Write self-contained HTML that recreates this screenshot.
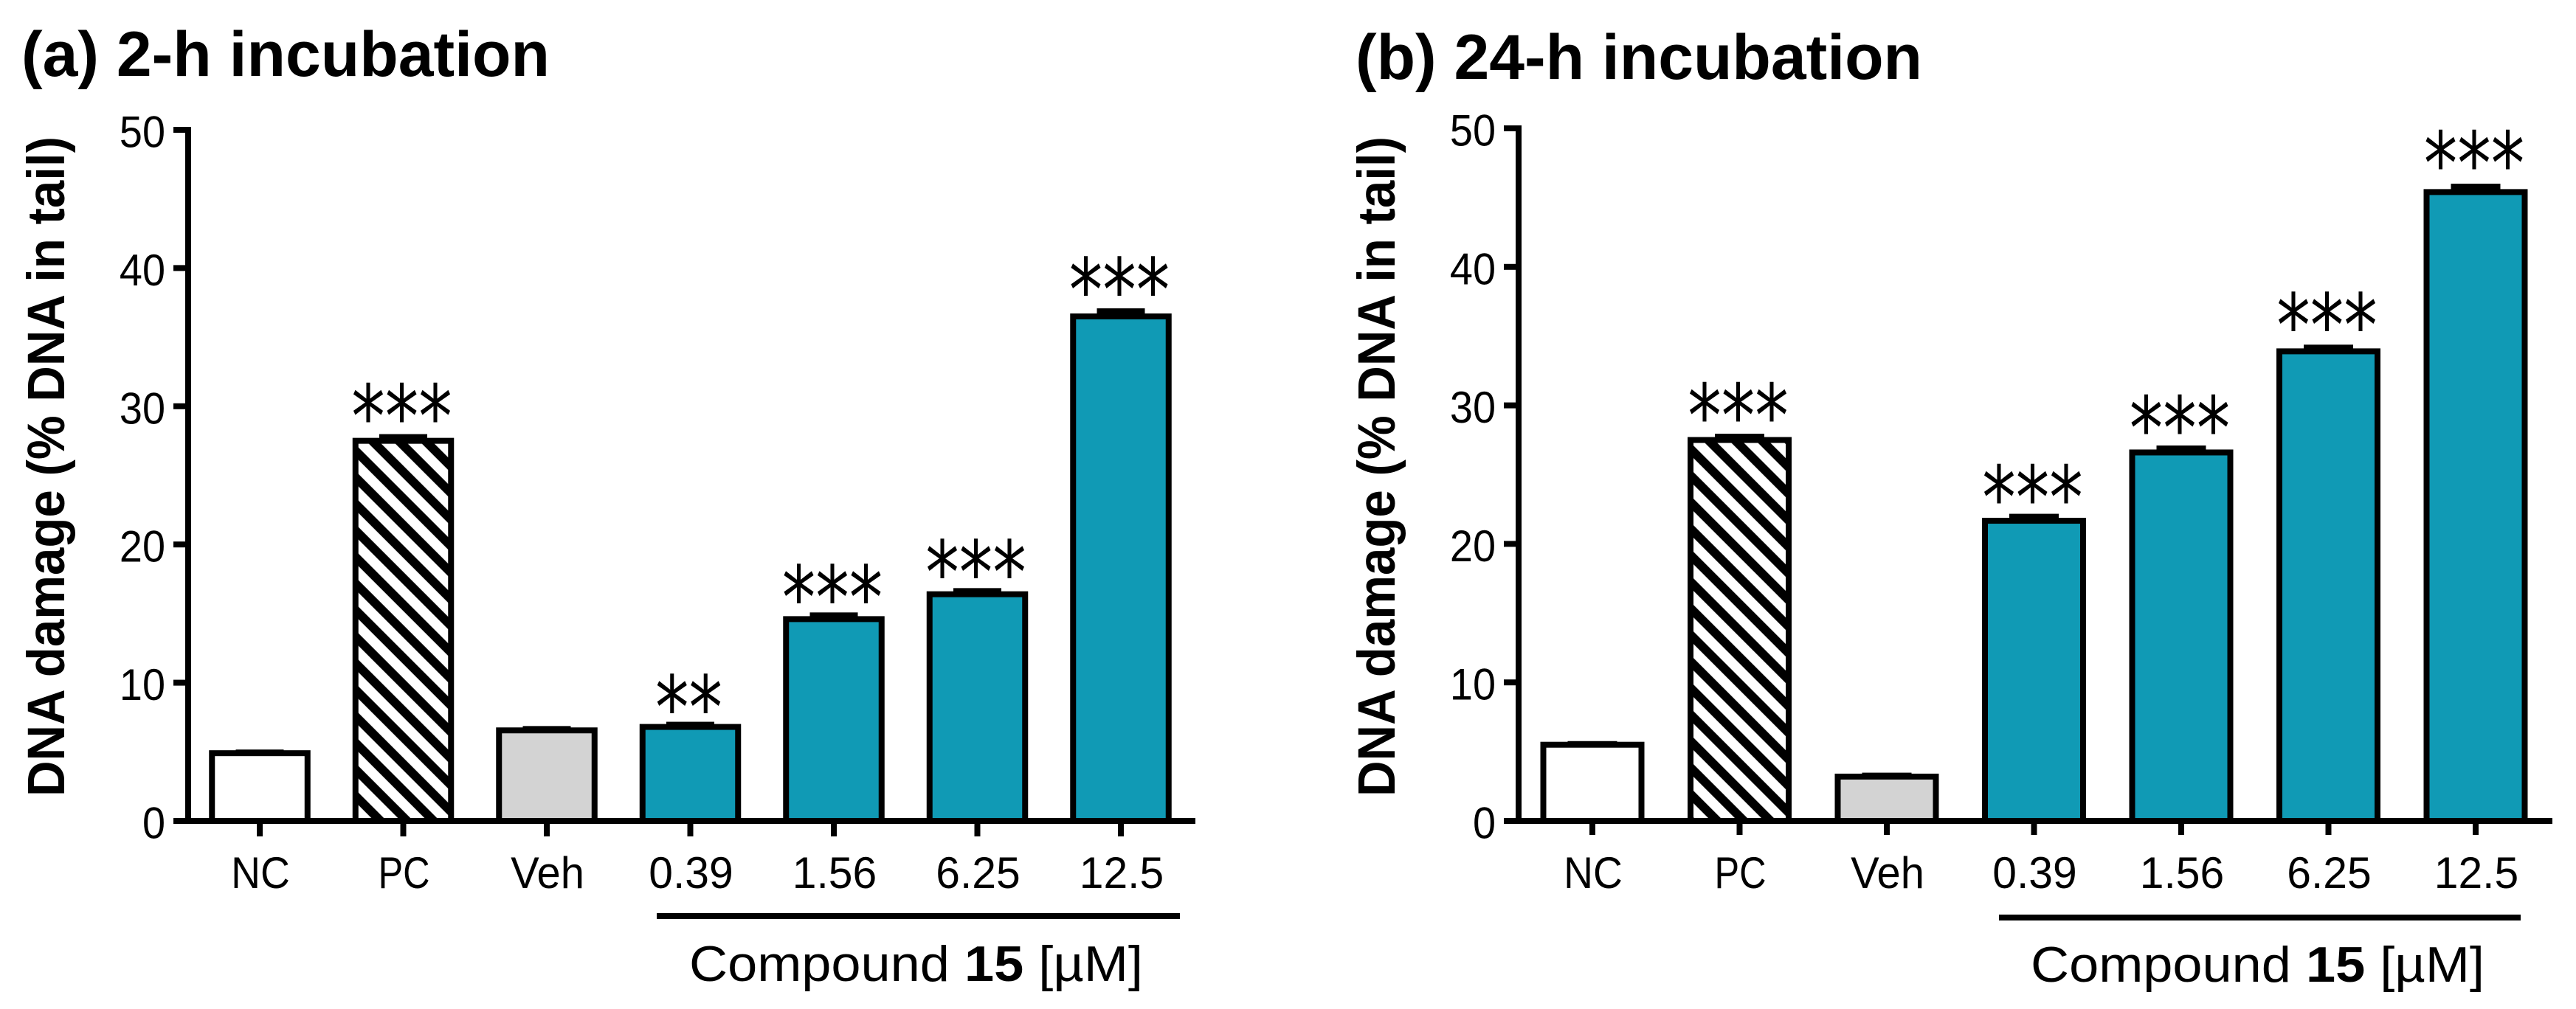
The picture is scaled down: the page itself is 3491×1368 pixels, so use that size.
<!DOCTYPE html>
<html lang="en">
<head>
<meta charset="utf-8">
<title>DNA damage after 2-h and 24-h incubation</title>
<style>
  html, body { margin: 0; padding: 0; background: #ffffff; }
  #figure { display: block; }
  text { font-family: "Liberation Sans", sans-serif; fill: #000; }
  .title { font-size: 86px; font-weight: 700; }
  .ytitle { font-size: 71px; font-weight: 700; }
  .tick { font-size: 60px; }
  .compound { font-size: 68px; }
  .sig { font-family: "DejaVu Sans", sans-serif; font-size: 118px; text-anchor: middle; }
</style>
</head>
<body>
<svg id="figure" xmlns="http://www.w3.org/2000/svg" width="3491" height="1368" viewBox="0 0 3491 1368">
  <defs>
    <pattern id="hatch-a" patternUnits="userSpaceOnUse" width="36" height="36" patternTransform="translate(0 21.3)">
      <path d="M-36 -36L72 72M-36 0L36 72M0 -36L72 36" stroke="#000" stroke-width="12" fill="none"/>
    </pattern>
    <pattern id="hatch-b" patternUnits="userSpaceOnUse" width="36" height="36" patternTransform="translate(0 9.6)">
      <path d="M-36 -36L72 72M-36 0L36 72M0 -36L72 36" stroke="#000" stroke-width="12" fill="none"/>
    </pattern>
  </defs>
  <rect x="0" y="0" width="3491" height="1368" fill="#ffffff"/>

  <text class="title" x="29" y="103" textLength="716" lengthAdjust="spacingAndGlyphs">(a) 2-h incubation</text>
  <text class="title" x="1837" y="107" textLength="768" lengthAdjust="spacingAndGlyphs">(b) 24-h incubation</text>

  <text class="ytitle" transform="translate(87 1080) rotate(-90)" x="0" y="0" textLength="895" lengthAdjust="spacingAndGlyphs">DNA damage (% DNA in tail)</text>
  <text class="ytitle" transform="translate(1890 1080) rotate(-90)" x="0" y="0" textLength="895" lengthAdjust="spacingAndGlyphs">DNA damage (% DNA in tail)</text>

  <g id="panel-a"></g>
  <g id="panel-b"></g>

  <rect x="890" y="1238" width="709" height="8" fill="#000"/>
  <rect x="2709" y="1240" width="707" height="8" fill="#000"/>
  <text class="compound" x="934" y="1330" textLength="615" lengthAdjust="spacingAndGlyphs">Compound <tspan font-weight="700">15</tspan> [µM]</text>
  <text class="compound" x="2752" y="1331" textLength="615" lengthAdjust="spacingAndGlyphs">Compound <tspan font-weight="700">15</tspan> [µM]</text>
</svg>

<script>
const categories = ['NC', 'PC', 'Veh', '0.39', '1.56', '6.25', '12.5'];
const yTickValues = [0, 10, 20, 30, 40, 50];
const yTickLabels = ['0', '10', '20', '30', '40', '50'];

const valuesA = [4.9, 27.5, 6.55, 6.8, 14.6, 16.4, 36.5];
const errorsA = [0.05, 0.27, 0.1, 0.16, 0.27, 0.23, 0.37];
const significanceA = ['', '***', '', '**', '***', '***', '***'];

const valuesB = [5.5, 27.5, 3.2, 21.67, 26.6, 33.9, 45.4];
const errorsB = [0.05, 0.24, 0.07, 0.29, 0.29, 0.27, 0.39];
const significanceB = ['', '***', '', '***', '***', '***', '***'];

const SVG_NS = 'http://www.w3.org/2000/svg';

function makeRect(parent, x, y, w, h, fill) {
  const r = document.createElementNS(SVG_NS, 'rect');
  r.setAttribute('x', x);
  r.setAttribute('y', y);
  r.setAttribute('width', w);
  r.setAttribute('height', h);
  r.setAttribute('fill', fill);
  parent.appendChild(r);
  return r;
}

function makeText(parent, cls, x, y, anchor, str) {
  const t = document.createElementNS(SVG_NS, 'text');
  t.setAttribute('class', cls);
  t.setAttribute('x', x);
  t.setAttribute('y', y);
  t.setAttribute('text-anchor', anchor);
  t.textContent = str;
  parent.appendChild(t);
  return t;
}

function fitWidth(textEl, ratio) {
  const natural = textEl.getComputedTextLength();
  textEl.setAttribute('textLength', natural * ratio);
  textEl.setAttribute('lengthAdjust', 'spacingAndGlyphs');
}

function categoryFit(label) {
  if (label === 'NC') return 0.92;
  if (label === 'PC') return 0.84;
  if (label === 'Veh') return 0.965;
  return 0.98;
}

function barFill(i, hatchId) {
  if (i === 0) return '#ffffff';
  if (i === 1) return 'url(#' + hatchId + ')';
  if (i === 2) return '#d3d3d3';
  return '#109ab5';
}

function drawPanel(cfg, values, errors, significance) {
  const g = document.getElementById(cfg.id);
  const yPos = function (v) { return cfg.y0 - cfg.yScale * v; };
  const xPos = function (i) { return cfg.x0 + cfg.step * i; };
  const sw = 8;

  categories.forEach(function (cat, i) {
    const cx = xPos(i);
    const top = yPos(values[i]);

    const cap = makeRect(g, cx - cfg.capW / 2, yPos(values[i] + errors[i]) - sw / 2, cfg.capW, sw, '#000');
    
    

    const bar = makeRect(g, cx - cfg.barW / 2 + sw / 2, top, cfg.barW - sw, cfg.y0 - top, barFill(i, cfg.hatch));
    bar.setAttribute('stroke', '#000');
    bar.setAttribute('stroke-width', sw);
    
    

    if (significance[i]) {
      const gap = 18 + 0.32 * values[i];
      const star = makeText(g, 'sig', cx + cfg.sigNudge, top - sw / 2 - gap + cfg.sigBaseline, 'middle', significance[i]);
      star.setAttribute('textLength', significance[i].length * 45.5);
      star.setAttribute('lengthAdjust', 'spacingAndGlyphs');
      
      
    }

    const tick = makeRect(g, cx - sw / 2, cfg.y0, sw, cfg.tickBottom - cfg.y0, '#000');
    
    

    const label = makeText(g, 'tick', cx + 1, 1204, 'middle', cat);
    fitWidth(label, categoryFit(cat));
    
    
  });

  const yAxis = makeRect(g, cfg.axisX - sw / 2, yPos(50) - sw / 2, sw, cfg.y0 - yPos(50) + sw, '#000');
  
  

  const xAxis = makeRect(g, cfg.axisX - 20, cfg.y0 - sw / 2, cfg.axisEnd - cfg.axisX + 20, sw, '#000');
  
  

  yTickValues.forEach(function (v, i) {
    const y = yPos(v);
    const tick = makeRect(g, cfg.axisX - 20, y - sw / 2, 20, sw, '#000');
    
    

    const label = makeText(g, 'tick', cfg.axisX - 31, y + 23.5, 'end', yTickLabels[i]);
    fitWidth(label, 0.93);
    
    
  });
}

drawPanel({ id: 'panel-a', key: 'a', hatch: 'hatch-a', y0: 1113, yScale: 18.74, x0: 352, step: 194.5, barW: 137.5, capW: 65, axisX: 255, axisEnd: 1620, tickBottom: 1134, sigNudge: -2, sigBaseline: 39 }, valuesA, errorsA, significanceA);
drawPanel({ id: 'panel-b', key: 'b', hatch: 'hatch-b', y0: 1113, yScale: 18.78, x0: 2158, step: 199.5, barW: 141, capW: 67, axisX: 2058, axisEnd: 3459, tickBottom: 1132, sigNudge: -2, sigBaseline: 39 }, valuesB, errorsB, significanceB);
</script>
</body>
</html>
